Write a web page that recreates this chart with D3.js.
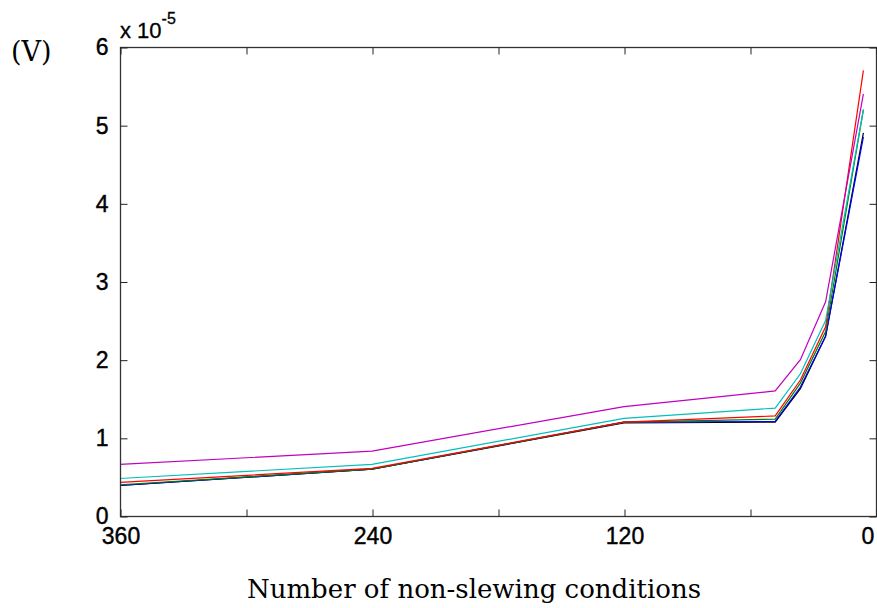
<!DOCTYPE html>
<html>
<head>
<meta charset="utf-8">
<script src="https://cdn.jsdelivr.net/npm/d3@7"></script>
<style>
  body { margin: 0; background: #fff; }
  svg { display: block; }
</style>
</head>
<body>
<svg id="chart" width="877" height="608"></svg>
<script>
// x positions (number of non-slewing conditions), values in units of 1e-5 V
const conditions = [360, 240, 120, 48, 36, 24, 6]
const black   = [0.39, 0.60, 1.19, 1.20, 1.63, 2.30, 4.90]
const blue    = [0.39, 0.60, 1.20, 1.21, 1.65, 2.30, 4.85]
const green   = [0.40, 0.60, 1.20, 1.24, 1.70, 2.36, 5.20]
const red     = [0.43, 0.61, 1.20, 1.28, 1.74, 2.42, 5.70]
const cyan    = [0.48, 0.66, 1.25, 1.38, 1.82, 2.50, 5.20]
const magenta = [0.66, 0.83, 1.40, 1.60, 2.00, 2.74, 5.40]

const xTicks = [360, 300, 240, 180, 120, 60, 0]
const xLabels = { 360: '360', 240: '240', 120: '120', 0: '0' }
const yTicks = [0, 1, 2, 3, 4, 5, 6]

const series = [
	{ values: black, color: '#000000' },
	{ values: blue, color: '#0000ff' },
	{ values: green, color: '#008000' },
	{ values: red, color: '#ff0000' },
	{ values: cyan, color: '#00bfbf' },
	{ values: magenta, color: '#bf00bf' }
]

const m = { left: 120, right: 876, top: 47, bottom: 516 }
const svg = d3.select('#chart')
const tickFont = 'Liberation Sans, Arial, sans-serif'

const xScale = d3.scaleLinear().domain([360, 0]).range([m.left, m.right])
const yScale = d3.scaleLinear().domain([0, 6]).range([m.bottom, m.top])

// lines
const lineGen = d3.line()
	.x((d, i) => xScale(conditions[i]))
	.y(d => yScale(d))

series.forEach(s => {
	svg.append('path')
		.attr('d', lineGen(s.values))
		.attr('fill', 'none')
		.attr('stroke', s.color)
		.attr('stroke-width', 1.2)
})

// box
svg.append('rect')
	.attr('x', m.left + 0.5)
	.attr('y', m.top + 0.5)
	.attr('width', m.right - m.left)
	.attr('height', m.bottom - m.top)
	.attr('fill', 'none')
	.attr('stroke', '#333')
	.attr('stroke-width', 1.3)

const tickLen = 7

// bottom axis: ticks pointing inward, labels below
const xAxis = d3.axisBottom(xScale)
	.tickValues(xTicks)
	.tickSizeInner(-tickLen)
	.tickSizeOuter(0)
	.tickPadding(tickLen + 4)
	.tickFormat(d => xLabels[d] || '')

const gx = svg.append('g')
	.attr('transform', `translate(0.5,${m.bottom + 0.5})`)
	.call(xAxis)
gx.select('.domain').remove()
gx.selectAll('line').attr('stroke', '#222')
gx.selectAll('text')
	.attr('font-family', tickFont)
	.attr('font-size', 23)
	.attr('fill', '#000')
	.attr('stroke', '#000')
	.attr('stroke-width', 0.4)
	.attr('dx', d => d === 0 ? -9 : 0)

// top ticks
const gxt = svg.append('g')
	.attr('transform', `translate(0.5,${m.top + 0.5})`)
	.call(d3.axisTop(xScale).tickValues(xTicks).tickSizeInner(-tickLen).tickSizeOuter(0).tickFormat(''))
gxt.select('.domain').remove()
gxt.selectAll('line').attr('stroke', '#222')

// left axis
const yAxis = d3.axisLeft(yScale)
	.tickValues(yTicks)
	.tickSizeInner(-tickLen)
	.tickSizeOuter(0)
	.tickPadding(tickLen + 5)
	.tickFormat(d3.format('d'))

const gy = svg.append('g')
	.attr('transform', `translate(${m.left + 0.5},0.5)`)
	.call(yAxis)
gy.select('.domain').remove()
gy.selectAll('line').attr('stroke', '#222')
gy.selectAll('text')
	.attr('font-family', tickFont)
	.attr('font-size', 23)
	.attr('fill', '#000')
	.attr('stroke', '#000')
	.attr('stroke-width', 0.4)

// right ticks
const gyr = svg.append('g')
	.attr('transform', `translate(${m.right + 0.5},0.5)`)
	.call(d3.axisRight(yScale).tickValues(yTicks).tickSizeInner(-tickLen).tickSizeOuter(0).tickFormat(''))
gyr.select('.domain').remove()
gyr.selectAll('line').attr('stroke', '#222')

// exponent label
const expo = svg.append('text')
	.attr('x', m.left)
	.attr('y', 38)
	.attr('font-family', tickFont)
	.attr('font-size', 22)
	.attr('fill', '#000')
	.attr('stroke', '#000')
	.attr('stroke-width', 0.3)
expo.append('tspan').text('x 10')
expo.append('tspan').attr('dy', -14).attr('font-size', 16).text('-5')

// unit label
svg.append('text')
	.attr('x', 11)
	.attr('y', 61)
	.attr('font-family', 'DejaVu Serif, Liberation Serif, serif')
	.attr('font-size', 27)
	.attr('font-weight', 300)
	.attr('fill', '#000')
	.text('(V)')

// x axis title
svg.append('text')
	.attr('x', 474)
	.attr('y', 598)
	.attr('text-anchor', 'middle')
	.attr('font-family', 'DejaVu Serif, Liberation Serif, serif')
	.attr('font-size', 26)
	.attr('fill', '#000')
	.text('Number of non-slewing conditions')
</script>
</body>
</html>
